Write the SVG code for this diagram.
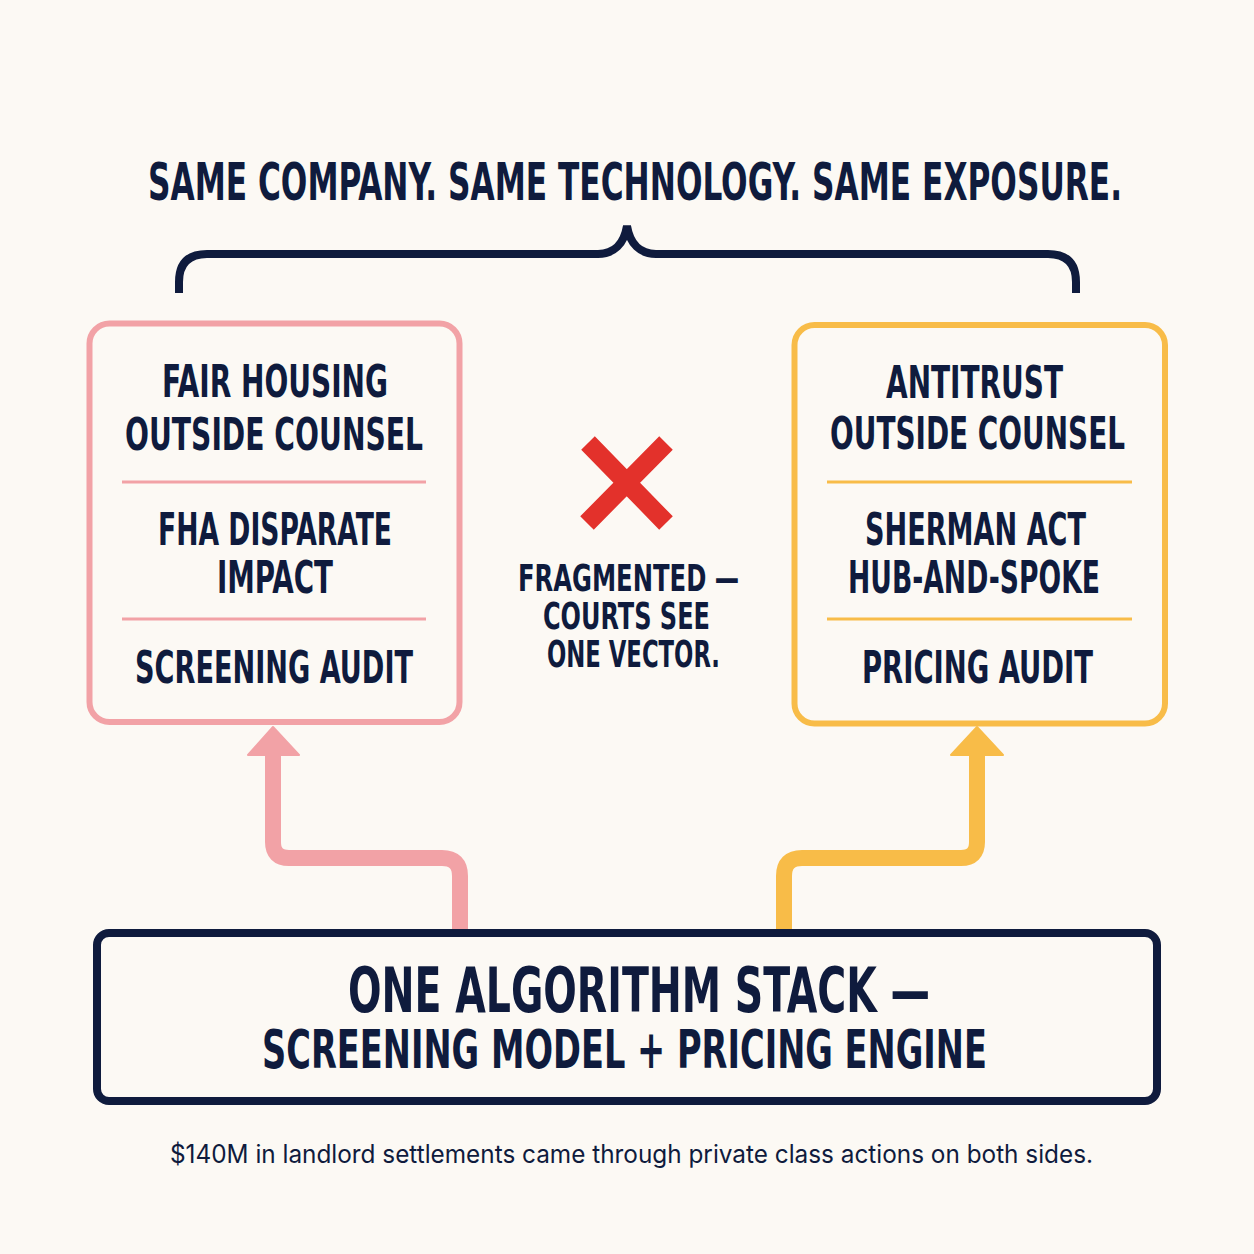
<svg xmlns="http://www.w3.org/2000/svg" width="1254" height="1254" viewBox="0 0 1254 1254">
<style>
.h{font-family:"Liberation Sans Narrow","DejaVu Sans Condensed","Liberation Sans",sans-serif;font-weight:bold;fill:#0f1b3d}
.cap{font-family:"Inter","Liberation Sans","DejaVu Sans",sans-serif;font-size:25px;fill:#0f1b3d}
.navy{fill:none;stroke:#0f1b3d}
.pinkS{fill:none;stroke:#f2a2a6}
.yelS{fill:none;stroke:#f8bc48}
</style>
<rect width="1254" height="1254" fill="#fcf9f4"/>
<g id="title">
<text class="h" x="148" y="200" font-size="51" textLength="974" lengthAdjust="spacingAndGlyphs">SAME COMPANY. SAME TECHNOLOGY. SAME EXPOSURE.</text>
<path class="navy" stroke-width="8" d="M179,293 V282 Q179,254 207,254 H598 C614,254 624,244 627,226 C630,244 640,254 656,254 H1048 Q1076,254 1076,282 V293"/>
</g>
<g id="connectors">
<path class="pinkS" stroke-width="16" d="M460,931 V876 Q460,858 442,858 H289 Q273,858 273,842 V750"/>
<polygon points="273,727 299,755 248,755" fill="#f2a2a6" stroke="#f2a2a6" stroke-width="2" stroke-linejoin="round"/>
<path class="yelS" stroke-width="16" d="M784,931 V876 Q784,858 802,858 H961 Q977,858 977,842 V750"/>
<polygon points="977,727 1003,755 951,755" fill="#f8bc48" stroke="#f8bc48" stroke-width="2" stroke-linejoin="round"/>
</g>
<g id="fair-housing">
<rect x="89.5" y="323.5" width="370" height="398.5" rx="20" fill="#fcf9f4" class="pinkS" stroke-width="6"/>
<line x1="122" y1="482" x2="426" y2="482" class="pinkS" stroke-width="3"/>
<line x1="122" y1="619" x2="426" y2="619" class="pinkS" stroke-width="3"/>
<text class="h" font-size="44" x="162" y="397" textLength="226" lengthAdjust="spacingAndGlyphs">FAIR HOUSING</text>
<text class="h" font-size="44" x="125" y="450" textLength="298" lengthAdjust="spacingAndGlyphs">OUTSIDE COUNSEL</text>
<text class="h" font-size="44" x="158" y="545" textLength="234" lengthAdjust="spacingAndGlyphs">FHA DISPARATE</text>
<text class="h" font-size="44" x="217" y="593" textLength="116" lengthAdjust="spacingAndGlyphs">IMPACT</text>
<text class="h" font-size="44" x="135" y="683" textLength="278" lengthAdjust="spacingAndGlyphs">SCREENING AUDIT</text>
</g>
<g id="antitrust">
<rect x="794.5" y="325" width="370.5" height="398.5" rx="20" fill="#fcf9f4" class="yelS" stroke-width="6"/>
<line x1="827" y1="482" x2="1132" y2="482" class="yelS" stroke-width="3"/>
<line x1="827" y1="619" x2="1132" y2="619" class="yelS" stroke-width="3"/>
<text class="h" font-size="44" x="886" y="398" textLength="177" lengthAdjust="spacingAndGlyphs">ANTITRUST</text>
<text class="h" font-size="44" x="830" y="449" textLength="295" lengthAdjust="spacingAndGlyphs">OUTSIDE COUNSEL</text>
<text class="h" font-size="44" x="865" y="545" textLength="221" lengthAdjust="spacingAndGlyphs">SHERMAN ACT</text>
<text class="h" font-size="44" x="848" y="593" textLength="252" lengthAdjust="spacingAndGlyphs">HUB-AND-SPOKE</text>
<text class="h" font-size="44" x="862" y="683" textLength="231" lengthAdjust="spacingAndGlyphs">PRICING AUDIT</text>
</g>
<g id="fragmented">
<path d="M588,443 L666,523 M666,443 L587,523" stroke="#e3312b" stroke-width="19" fill="none"/>
<text class="h" font-size="38" x="518" y="591" textLength="221" lengthAdjust="spacingAndGlyphs">FRAGMENTED —</text>
<text class="h" font-size="38" x="543" y="629" textLength="167" lengthAdjust="spacingAndGlyphs">COURTS SEE</text>
<text class="h" font-size="38" x="547" y="667" textLength="173" lengthAdjust="spacingAndGlyphs">ONE VECTOR.</text>
</g>
<g id="algorithm-stack">
<rect x="97" y="933" width="1060" height="168" rx="12" fill="#fcf9f4" class="navy" stroke-width="8"/>
<text class="h" font-size="63" x="348" y="1012" textLength="582" lengthAdjust="spacingAndGlyphs">ONE ALGORITHM STACK —</text>
<text class="h" font-size="53" x="262" y="1068" textLength="725" lengthAdjust="spacingAndGlyphs">SCREENING MODEL + PRICING ENGINE</text>
</g>
<g id="caption">
<text class="cap" x="170" y="1163" textLength="923" lengthAdjust="spacingAndGlyphs">$140M in landlord settlements came through private class actions on both sides.</text>
</g>
</svg>
